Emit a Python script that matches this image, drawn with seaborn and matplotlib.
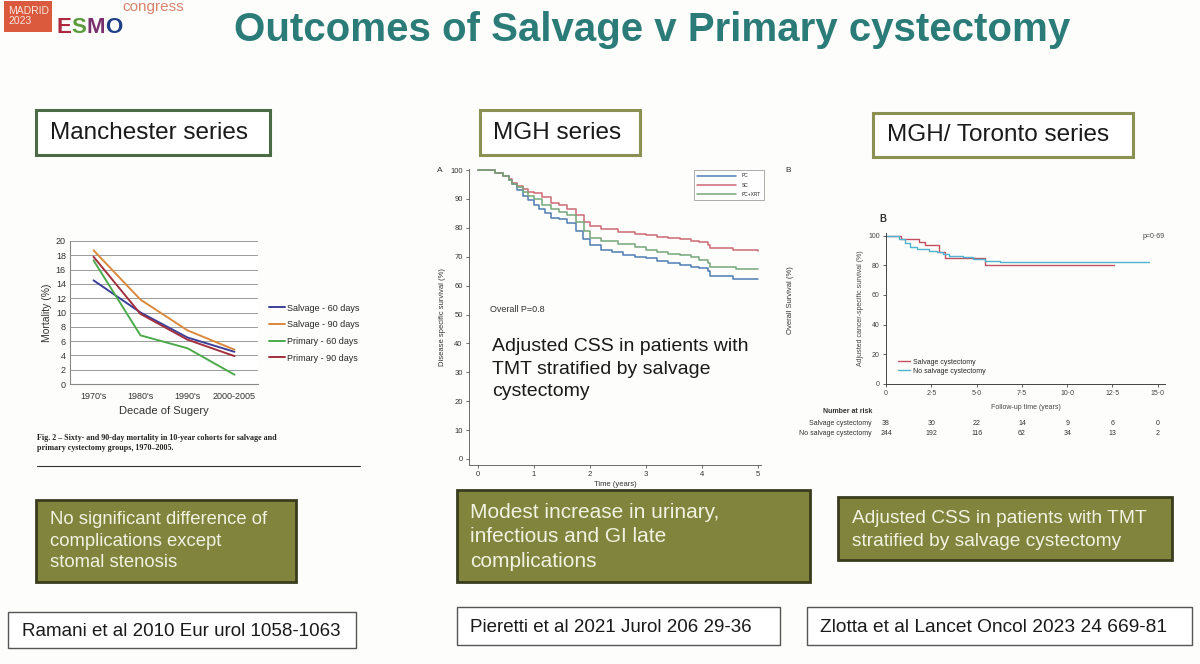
import pandas as pd
import seaborn as sns
import matplotlib.pyplot as plt
from matplotlib.patches import Rectangle
from matplotlib.lines import Line2D

# --- data ---
decades = ["1970's", "1980's", "1990's", "2000-2005"]
salvage_60 = [14.5, 10.0, 6.5, 4.5]
salvage_90 = [18.7, 11.8, 7.5, 4.8]
primary_60 = [17.3, 6.8, 5.0, 1.3]
primary_90 = [17.8, 9.8, 6.2, 3.9]

# MGH series (Kaplan-Meier, years / %)
pc_t = [0, 0.3, 0.45, 0.55, 0.62, 0.7, 0.8, 0.9, 1.0, 1.1, 1.2, 1.3, 1.45, 1.6, 1.75, 1.88, 2.0,
        2.2, 2.4, 2.6, 2.8, 3.0, 3.2, 3.4, 3.6, 3.8, 3.95, 4.1, 4.15, 4.55, 5.0]
pc_v = [100, 99, 98, 96.5, 95, 93, 91, 89.5, 88, 86.5, 85, 83.5, 83, 81.5, 79, 76, 74,
        72.5, 71.5, 70.5, 70, 69.5, 68.5, 68, 67, 66.5, 66, 65, 63.3, 62.3, 62.3]
sc_t = [0, 0.3, 0.45, 0.55, 0.62, 0.7, 0.8, 0.9, 1.0, 1.15, 1.3, 1.45, 1.6, 1.75, 1.9, 2.0,
        2.2, 2.5, 2.8, 3.0, 3.2, 3.4, 3.6, 3.8, 3.95, 4.1, 4.15, 4.55, 5.0]
sc_v = [100, 99, 98, 97, 95.5, 94.5, 93.5, 92.5, 92, 90.5, 88.5, 88, 86.5, 84.5, 82, 80.5,
        79.5, 78.5, 78, 77.5, 77, 76.5, 76, 75.5, 75, 74, 72.9, 72.3, 72]
xrt_t = [0, 0.3, 0.45, 0.55, 0.62, 0.7, 0.8, 0.9, 1.0, 1.15, 1.3, 1.45, 1.6, 1.75, 1.9, 2.0,
         2.2, 2.5, 2.8, 3.0, 3.2, 3.4, 3.6, 3.8, 3.95, 4.1, 4.15, 4.6, 5.0]
xrt_v = [100, 99, 98, 96.5, 95, 94, 92.5, 91, 90, 88, 86.5, 85.5, 84.5, 82, 79, 76.5,
         75.5, 74.5, 73.5, 72.5, 71.5, 71, 70.5, 70, 69, 68, 66.6, 65.7, 65.7]

# MGH / Toronto series
sal_t = [0, 0.85, 1.8, 2.15, 2.9, 3.25, 5.45, 12.6]
sal_v = [100, 97.5, 95.5, 93.5, 89, 84.7, 80.5, 80.5]
nosal_t = [0, 0.7, 1.05, 1.3, 1.7, 2.4, 2.8, 3.15, 3.5, 4.25, 4.8, 5.45, 6.3, 14.5]
nosal_v = [100, 98, 95, 92.6, 91, 89.9, 88.8, 87.6, 86.5, 85.4, 84.3, 83.1, 82, 82]
risk_times = [0, 2.5, 5.0, 7.5, 10.0, 12.5, 15.0]
risk_tick_labels = ["0", "2·5", "5·0", "7·5", "10·0", "12·5", "15·0"]
risk_salvage = [38, 30, 22, 14, 9, 6, 0]
risk_no_salvage = [244, 192, 116, 62, 34, 13, 2]

W, H = 1200, 664
sns.set_theme(style="white")
plt.rcParams['font.family'] = ['Liberation Sans', 'DejaVu Sans']

fig = plt.figure(figsize=(W / 100, H / 100), dpi=100)
fig.patch.set_facecolor('#fdfdfb')


def place(x0, y0, x1, y1):
    return fig.add_axes([x0 / W, 1 - y1 / H, (x1 - x0) / W, (y1 - y0) / H])


# ---------- panel 1: Manchester ----------
ax1 = place(70, 241, 258, 384)
df1 = pd.DataFrame({
    'decade': list(range(4)) * 4,
    'mortality': salvage_60 + salvage_90 + primary_60 + primary_90,
    'group': ['Salvage - 60 days'] * 4 + ['Salvage - 90 days'] * 4
             + ['Primary - 60 days'] * 4 + ['Primary - 90 days'] * 4,
})
pal1 = {'Salvage - 60 days': '#3b3f99', 'Salvage - 90 days': '#d8893c',
        'Primary - 60 days': '#4caa4c', 'Primary - 90 days': '#a3303f'}
sns.lineplot(data=df1, x='decade', y='mortality', hue='group', palette=pal1,
             estimator=None, linewidth=1.4, ax=ax1, legend=False)
ax1.set_xlim(-0.5, 3.5)
ax1.set_ylim(0, 20)
ax1.set_yticks(range(0, 21, 2))
ax1.set_xticks(range(4))
ax1.set_xticklabels(decades)
ax1.set_xticks([0.5, 1.5, 2.5, 3.5], minor=True)
ax1.grid(axis='y', color='#9a9a9a', linewidth=0.7)
ax1.tick_params(axis='both', labelsize=6.5, colors='#333333', length=0, pad=3)
ax1.tick_params(axis='x', which='minor', length=3, color='#888888', direction='out')
ax1.tick_params(axis='x', which='major', pad=6)
for s in ['top', 'right']:
    ax1.spines[s].set_visible(False)
for s in ['left', 'bottom']:
    ax1.spines[s].set_color('#888888')
    ax1.spines[s].set_linewidth(0.8)
ax1.set_ylabel('Mortality (%)', fontsize=7.5, color='#333333', labelpad=3)
ax1.set_xlabel('Decade of Sugery', fontsize=8, color='#333333', labelpad=3)
h1 = [Line2D([], [], color=c, lw=1.4) for c in pal1.values()]
ax1.legend(h1, list(pal1.keys()), loc='upper left', bbox_to_anchor=(264 / W, 1 - 299 / H),
           bbox_transform=fig.transFigure, frameon=False, fontsize=6.5, handlelength=1.8,
           handletextpad=0.3, labelspacing=0.85, borderpad=0)

# ---------- panel 2: MGH ----------
ax2 = place(469, 168.6, 760.8, 465)
df2 = pd.DataFrame({
    'time': pc_t + sc_t + xrt_t,
    'surv': pc_v + sc_v + xrt_v,
    'group': ['PC'] * len(pc_t) + ['SC'] * len(sc_t) + ['PC+XRT'] * len(xrt_t),
})
pal2 = {'PC': '#4f7db3', 'SC': '#cc6a74', 'PC+XRT': '#74a67a'}
sns.lineplot(data=df2, x='time', y='surv', hue='group', palette=pal2, estimator=None,
             drawstyle='steps-post', linewidth=1.1, ax=ax2, legend=False)
ax2.set_xlim(-0.155, 5.05)
ax2.set_ylim(-2.08, 100.5)
ax2.set_yticks(range(0, 101, 10))
ax2.set_xticks(range(6))
ax2.tick_params(axis='both', labelsize=5.5, colors='#333333', length=2.5, width=0.5,
                direction='out', pad=2, left=True, bottom=True)
for s in ['top', 'right']:
    ax2.spines[s].set_visible(False)
for s in ['left', 'bottom']:
    ax2.spines[s].set_color('#555555')
    ax2.spines[s].set_linewidth(0.6)
ax2.set_facecolor('none')
ax2.set_ylabel('Disease specific survival (%)', fontsize=5.5, color='#333333', labelpad=3)
ax2.set_xlabel('Time (years)', fontsize=5.5, color='#333333', labelpad=2)
h2 = [Line2D([], [], color=c, lw=1.1) for c in pal2.values()]
leg2 = ax2.legend(h2, list(pal2.keys()), loc='upper left',
                  bbox_to_anchor=(692 / W, 1 - 168 / H), bbox_transform=fig.transFigure,
                  frameon=True, fancybox=False, fontsize=3.5, handlelength=8,
                  handletextpad=1.2, labelspacing=0.9, borderpad=0.6)
leg2.get_frame().set_edgecolor('#888888')
leg2.get_frame().set_linewidth(0.6)

# ---------- panel 3: MGH / Toronto ----------
ax3 = place(886, 232.7, 1165, 384)
df3 = pd.DataFrame({
    'time': sal_t + nosal_t,
    'surv': sal_v + nosal_v,
    'group': ['Salvage cystectomy'] * len(sal_t) + ['No salvage cystectomy'] * len(nosal_t),
})
pal3 = {'Salvage cystectomy': '#c4505f', 'No salvage cystectomy': '#4fb3cf'}
sns.lineplot(data=df3, x='time', y='surv', hue='group', palette=pal3, estimator=None,
             drawstyle='steps-post', linewidth=1.0, ax=ax3, legend=False)
ax3.set_xlim(0, 15.4)
ax3.set_ylim(0, 102)
ax3.set_yticks(range(0, 101, 20))
ax3.set_xticks(risk_times)
ax3.set_xticklabels(risk_tick_labels)
ax3.tick_params(axis='both', labelsize=5, colors='#444444', length=2.5, width=0.6,
                direction='out', pad=2, left=True, bottom=True)
for s in ['top', 'right']:
    ax3.spines[s].set_visible(False)
for s in ['left', 'bottom']:
    ax3.spines[s].set_color('#444444')
    ax3.spines[s].set_linewidth(0.7)
ax3.set_facecolor('none')
ax3.set_ylabel('Adjusted cancer-specific survival (%)', fontsize=5, color='#444444', labelpad=3)
ax3.set_xlabel('Follow-up time (years)', fontsize=5, color='#444444', labelpad=5)
h3 = [Line2D([], [], color=c, lw=1.0) for c in pal3.values()]
ax3.legend(h3, list(pal3.keys()), loc='upper left', bbox_to_anchor=(0.03, 0.19),
           frameon=False, fontsize=5, handlelength=1.8, handletextpad=0.4,
           labelspacing=0.3, borderpad=0)
ax3.text(1.0, 1.0, 'p=0·69', transform=ax3.transAxes, ha='right', va='top', fontsize=5,
         color='#444444')
ax3.text(-0.01, 1.09, 'B', transform=ax3.transAxes, ha='center', va='center', fontsize=7,
         fontweight='bold', color='#333333')
xt = ax3.get_xaxis_transform()
ax3.text(-0.05, -0.18, 'Number at risk', transform=ax3.transAxes, ha='right', va='center',
         fontsize=5, fontweight='bold', color='#333333')
ax3.text(-0.05, -0.258, 'Salvage cystectomy', transform=ax3.transAxes, ha='right',
         va='center', fontsize=5, color='#333333')
ax3.text(-0.05, -0.33, 'No salvage cystectomy', transform=ax3.transAxes, ha='right',
         va='center', fontsize=5, color='#333333')
for t, a, b in zip(risk_times, risk_salvage, risk_no_salvage):
    ax3.text(t, -0.258, str(a), transform=xt, ha='center', va='center', fontsize=5,
             color='#333333', clip_on=False)
    ax3.text(t, -0.33, str(b), transform=xt, ha='center', va='center', fontsize=5,
             color='#333333', clip_on=False)

# ---------- slide overlay (pixel coordinates) ----------
ov = fig.add_axes([0, 0, 1, 1], zorder=10)
ov.set_xlim(0, W)
ov.set_ylim(H, 0)
ov.axis('off')
ov.patch.set_alpha(0)


def box(x0, y0, x1, y1, fc='white', ec='#555555', lw=1.0):
    ov.add_patch(Rectangle((x0, y0), x1 - x0, y1 - y0, facecolor=fc, edgecolor=ec, lw=lw))


# logo
box(4, 1, 52, 32, fc='#db5a3e', ec='none')
ov.text(8, 16, 'MADRID\n2023', fontsize=7.5, color='#f6e6df', va='center', ha='left',
        linespacing=0.95)
for ch, x, c in zip('ESMO', [56, 71, 86, 105], ['#b0283f', '#5c9b3b', '#7a2f6e', '#1f3f86']):
    ov.text(x, 33, ch, fontsize=16, fontweight='bold', color=c, va='baseline', ha='left')
ov.text(122, 11, 'congress', fontsize=11, color='#d9826c', va='baseline', ha='left')

ov.text(652, 30, 'Outcomes of Salvage v Primary cystectomy', fontsize=29, fontweight='bold',
        color='#2b7c78', ha='center', va='center')

# series header boxes
box(36, 110, 270, 155, ec='#4b6a46', lw=2.2)
ov.text(50, 133, 'Manchester series', fontsize=17.5, color='#1a1a1a', va='center')
box(480, 110, 640, 155, ec='#8a9152', lw=2.2)
ov.text(493, 133, 'MGH series', fontsize=17.5, color='#1a1a1a', va='center')
box(873, 113, 1133, 157, ec='#8a9152', lw=2.2)
ov.text(887, 135, 'MGH/ Toronto series', fontsize=17.5, color='#1a1a1a', va='center')

# figure caption for panel 1
ov.text(37, 443, 'Fig. 2 – Sixty- and 90-day mortality in 10-year cohorts for salvage and\n'
        'primary cystectomy groups, 1970–2005.', fontsize=5.8, fontweight='bold',
        family=['Liberation Serif', 'DejaVu Serif'], color='#222222', va='center',
        linespacing=1.3)
ov.plot([37, 360], [466, 466], color='#333333', lw=0.8)

# MGH panel annotations
ov.text(437, 170, 'A', fontsize=6, color='#333333', va='center')
ov.text(785, 170, 'B', fontsize=6, color='#333333', va='center')
ov.text(791, 300, 'Overall Survival (%)', fontsize=5.5, color='#333333', va='center',
        ha='center', rotation=90)
ov.text(490, 309, 'Overall P=0.8', fontsize=6.5, color='#333333', va='center')
ov.text(492, 369, 'Adjusted CSS in patients with\nTMT stratified by salvage\ncystectomy',
        fontsize=14, color='#1a1a1a', va='center', linespacing=1.45)

# green summary boxes
olive, olive_edge, pale = '#80843c', '#3a3c1e', '#f2f2e2'
box(36, 500, 296, 582, fc=olive, ec=olive_edge, lw=2)
ov.text(50, 541, 'No significant difference of\ncomplications except\nstomal stenosis',
        fontsize=13.3, color=pale, va='center', linespacing=1.38)
box(457, 490, 810, 582, fc=olive, ec=olive_edge, lw=2)
ov.text(470, 537, 'Modest increase in urinary,\ninfectious and GI late\ncomplications',
        fontsize=15, color=pale, va='center', linespacing=1.38)
box(838, 497, 1172, 560, fc=olive, ec=olive_edge, lw=2)
ov.text(852, 530, 'Adjusted CSS in patients with TMT\nstratified by salvage cystectomy',
        fontsize=13.8, color=pale, va='center', linespacing=1.4)

# reference boxes
box(8, 612, 356, 648)
ov.text(22, 631, 'Ramani et al 2010 Eur urol 1058-1063', fontsize=13.5, color='#1a1a1a',
        va='center')
box(457, 607, 780, 645)
ov.text(470, 627, 'Pieretti et al 2021 Jurol 206 29-36', fontsize=13.5, color='#1a1a1a',
        va='center')
box(807, 607, 1192, 645)
ov.text(820, 627, 'Zlotta et al Lancet Oncol 2023 24 669-81', fontsize=13.8, color='#1a1a1a',
        va='center')

fig.savefig('out.png', dpi=100, facecolor=fig.get_facecolor())
